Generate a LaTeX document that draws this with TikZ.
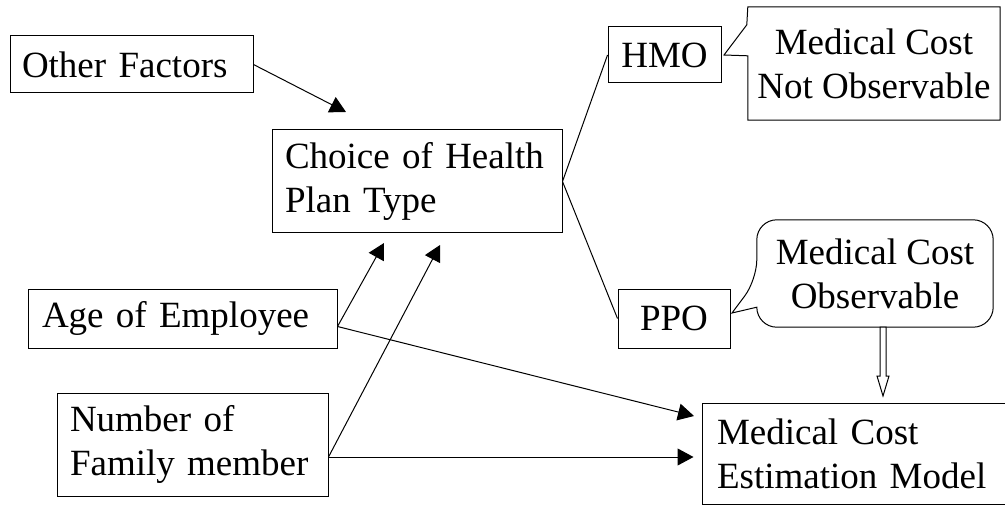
\documentclass[tikz,border=0pt]{standalone}
\usepackage{fontspec}
\setmainfont{Liberation Serif}
\usetikzlibrary{arrows.meta,calc}
\newcommand\fs{\fontsize{37}{44}\selectfont}
\begin{document}
\begin{tikzpicture}[x=1pt,y=-1pt,
  box/.style={draw, line width=1pt, inner sep=0pt, font=\fs},
  lbox/.style={box, align=left},
  cbox/.style={box, align=center},
  ctext/.style={inner sep=0pt, font=\fs, align=center},
  arr/.style={line width=1pt, -{Triangle[length=16pt,width=17pt]}},
  conn/.style={line width=1pt}]
\useasboundingbox (0,0) rectangle (1005,508);
\fill[white] (0,0) rectangle (1005,508);

\node[lbox, minimum width=243pt, minimum height=57pt, text width=219pt] (other) at (131.5,64.5) {Other Factors};
\node[lbox, minimum width=290pt, minimum height=103pt, text width=264pt] (choice) at (417,181.5) {Choice of Health\\Plan Type};
\node[cbox, minimum width=113pt, minimum height=56pt] (hmo) at (664.5,55) {HMO};
\node[ctext, minimum width=252pt, minimum height=113pt] (notobs) at (874,63.5) {Medical Cost\\Not Observable};
\node[cbox, minimum width=112pt, minimum height=59pt] (ppo) at (674,318.5) {PPO};
\node[ctext, minimum width=236pt, minimum height=107pt] (obs) at (875,273.5) {Medical Cost\\Observable};
\node[lbox, minimum width=309pt, minimum height=59pt, text width=281pt] (age) at (182.5,318.5) {Age of Employee};
\node[lbox, minimum width=271pt, minimum height=103pt, text width=245pt] (number) at (192.5,444.5) {Number of\\Family member};
\node[lbox, minimum width=308pt, minimum height=101pt, text width=278pt] (model) at (856,453.5) {Medical Cost\\Estimation Model};

% callout shapes
\coordinate (notobstip) at (724,55);
\draw[conn] (notobs.north west) -- (notobs.north east) -- (notobs.south east) -- (notobs.south west)
  -- ($(notobs.north west)+(0,49)$) -- (notobstip) -- ($(notobs.north west)+(-1,18)$) -- cycle;
\coordinate (obstip) at (732,313);
\draw[conn, rounded corners=20pt] ($(obs.south west)+(0,-20)$) -- (obs.south west) -- (obs.south east)
  -- (obs.north east) -- (obs.north west) -- ($(obs.north west)+(0,60)$) [sharp corners] -- (obstip) -- cycle;

% connectors
\coordinate (t1) at (346,112);
\coordinate (t2) at (384,243);
\coordinate (t3) at (440,245);
\coordinate (t4) at (694,416);
\draw[arr] (other.east) -- (t1);
\draw[arr] ([yshift=-8pt]age.east) -- (t2);
\draw[arr] ([yshift=-12.5pt]number.east) -- (t3);
\draw[arr] ([yshift=-8pt]age.east) -- (t4);
\draw[arr] ([yshift=-12.5pt]number.east) -- ([xshift=-8pt,yshift=-3.5pt]model.west);
\draw[conn] (choice.east) -- (hmo.west);
\draw[conn] (choice.east) -- (ppo.west);

% hollow arrow
\coordinate (ha) at (883,327);
\coordinate (hb) at (883,396);
\draw[conn, fill=white] ($(ha)+(-3,0)$) -- ($(hb)+(-3,-20)$) -- ($(hb)+(-6,-20)$) -- (hb)
  -- ($(hb)+(6,-20)$) -- ($(hb)+(3,-20)$) -- ($(ha)+(3,0)$) -- cycle;
\end{tikzpicture}
\end{document}
